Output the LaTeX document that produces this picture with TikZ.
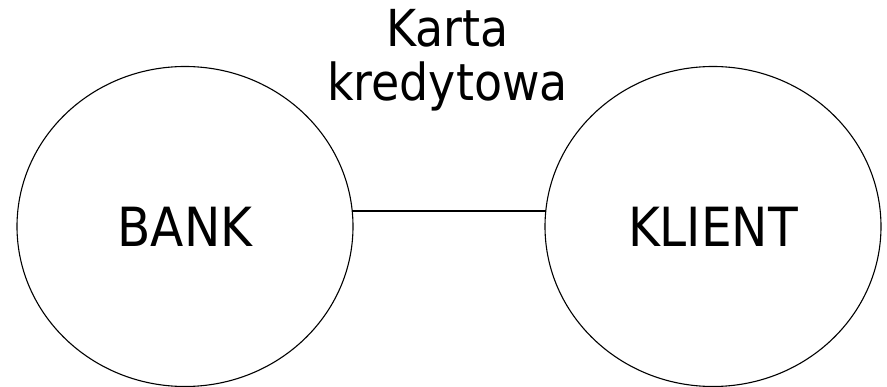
\documentclass[tikz,border=0pt]{standalone}
\usepackage{fontspec}
\setmainfont{DejaVu Sans Condensed}
\usetikzlibrary{shapes.geometric,calc}
\begin{document}
\begin{tikzpicture}[x=1pt,y=-1pt,
  party/.style={draw, ellipse, line width=1.1pt, minimum width=336pt, minimum height=320pt, inner sep=0pt,
    font=\fontsize{54}{60}\selectfont},
  link/.style={line width=1.1pt},
  caption/.style={align=center, inner sep=0pt, font=\fontsize{51}{54}\selectfont}]
  \useasboundingbox (0,0) rectangle (887,387);
  \node[party] (bank) at (185,226.5) {BANK};
  \node[party] (klient) at (713,226.5) {KLIENT};
  % anchor=base sits on the baseline of the last line
  \node[caption, anchor=base] (karta) at (447.5,101) {Karta~\\kredytowa};
  % horizontal link slightly above the centres, ending on both outlines
  \draw[link] ($(bank.center)+(167.2,-15.5)$) -- ($(klient.center)+(-167.2,-15.5)$);
\end{tikzpicture}
\end{document}
